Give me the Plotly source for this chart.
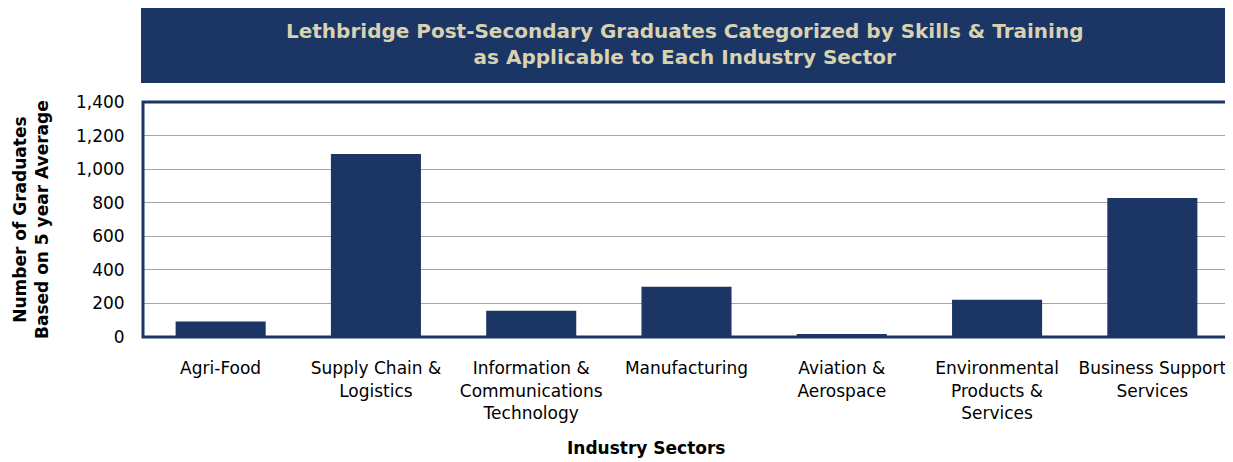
import plotly.graph_objects as go

categories = ["Agri-Food", "Supply Chain &<br>Logistics", "Information &<br>Communications<br>Technology",
              "Manufacturing", "Aviation &<br>Aerospace", "Environmental<br>Products &<br>Services",
              "Business Support<br>Services"]
values = [93, 1090, 157, 300, 18, 222, 828]
y_ticks = [0, 200, 400, 600, 800, 1000, 1200, 1400]

NAVY = "#1B3664"
FONT = "'DejaVu Sans', Verdana, sans-serif"

OFF = 8  # page body margin
W, H = 1233 - OFF, 462 - OFF
# target pixel positions in the screenshot
PL, PR, PT, PB = 143, 1230, 102, 337
L, R, T, B = PL - OFF, (1233 - PR) - 0, PT - OFF, (462 - PB)
pw, ph = W - L - R, H - T - B


def px_x(x):
    return (x - OFF - L) / pw


def px_y(y):
    return (H - B - (y - OFF)) / ph


fig = go.Figure()
fig.add_trace(go.Bar(x=categories, y=values, marker=dict(color=NAVY, line=dict(width=0)), width=0.58))

fig.update_layout(
    width=W, height=H,
    margin=dict(l=L, r=R, t=T, b=B),
    paper_bgcolor="white", plot_bgcolor="white",
    showlegend=False,
    font=dict(family=FONT, size=16, color="black"),
    xaxis=dict(showgrid=False, ticks="outside", ticklen=16, tickcolor="rgba(0,0,0,0)",
               tickfont=dict(size=17), showline=False, zeroline=False, tickangle=0),
    yaxis=dict(range=[0, 1400], tickvals=y_ticks, tickformat=",d", showgrid=True,
               gridcolor="#A6A6A6", gridwidth=1, zeroline=False, showline=False,
               ticks="outside", ticklen=14, tickcolor="rgba(0,0,0,0)", tickfont=dict(size=17)),
    shapes=[
        dict(type="rect", xref="paper", yref="paper", x0=px_x(141), x1=px_x(1231), y0=px_y(83), y1=px_y(8),
             fillcolor=NAVY, line=dict(width=0), layer="below"),
        dict(type="rect", xref="paper", yref="paper", x0=0, x1=1, y0=0, y1=1,
             line=dict(color=NAVY, width=3), fillcolor="rgba(0,0,0,0)"),
    ],
    annotations=[
        dict(text="<b>Lethbridge Post-Secondary Graduates Categorized by Skills &amp; Training<br>as Applicable to Each Industry Sector</b>",
             xref="paper", yref="paper", x=px_x(685), y=px_y(44), xanchor="center", yanchor="middle",
             showarrow=False, font=dict(size=20, color="#D9D2B0", family=FONT)),
        dict(text="<b>Number of Graduates<br>Based on 5 year Average</b>", textangle=-90,
             xref="paper", yref="paper", x=px_x(31), y=px_y(220), xanchor="center", yanchor="middle",
             showarrow=False, font=dict(size=17, color="black", family=FONT)),
        dict(text="<b>Industry Sectors</b>",
             xref="paper", yref="paper", x=px_x(646), y=px_y(448), xanchor="center", yanchor="middle",
             showarrow=False, font=dict(size=17, color="black", family=FONT)),
    ],
)

fig.write_html("out.html")
